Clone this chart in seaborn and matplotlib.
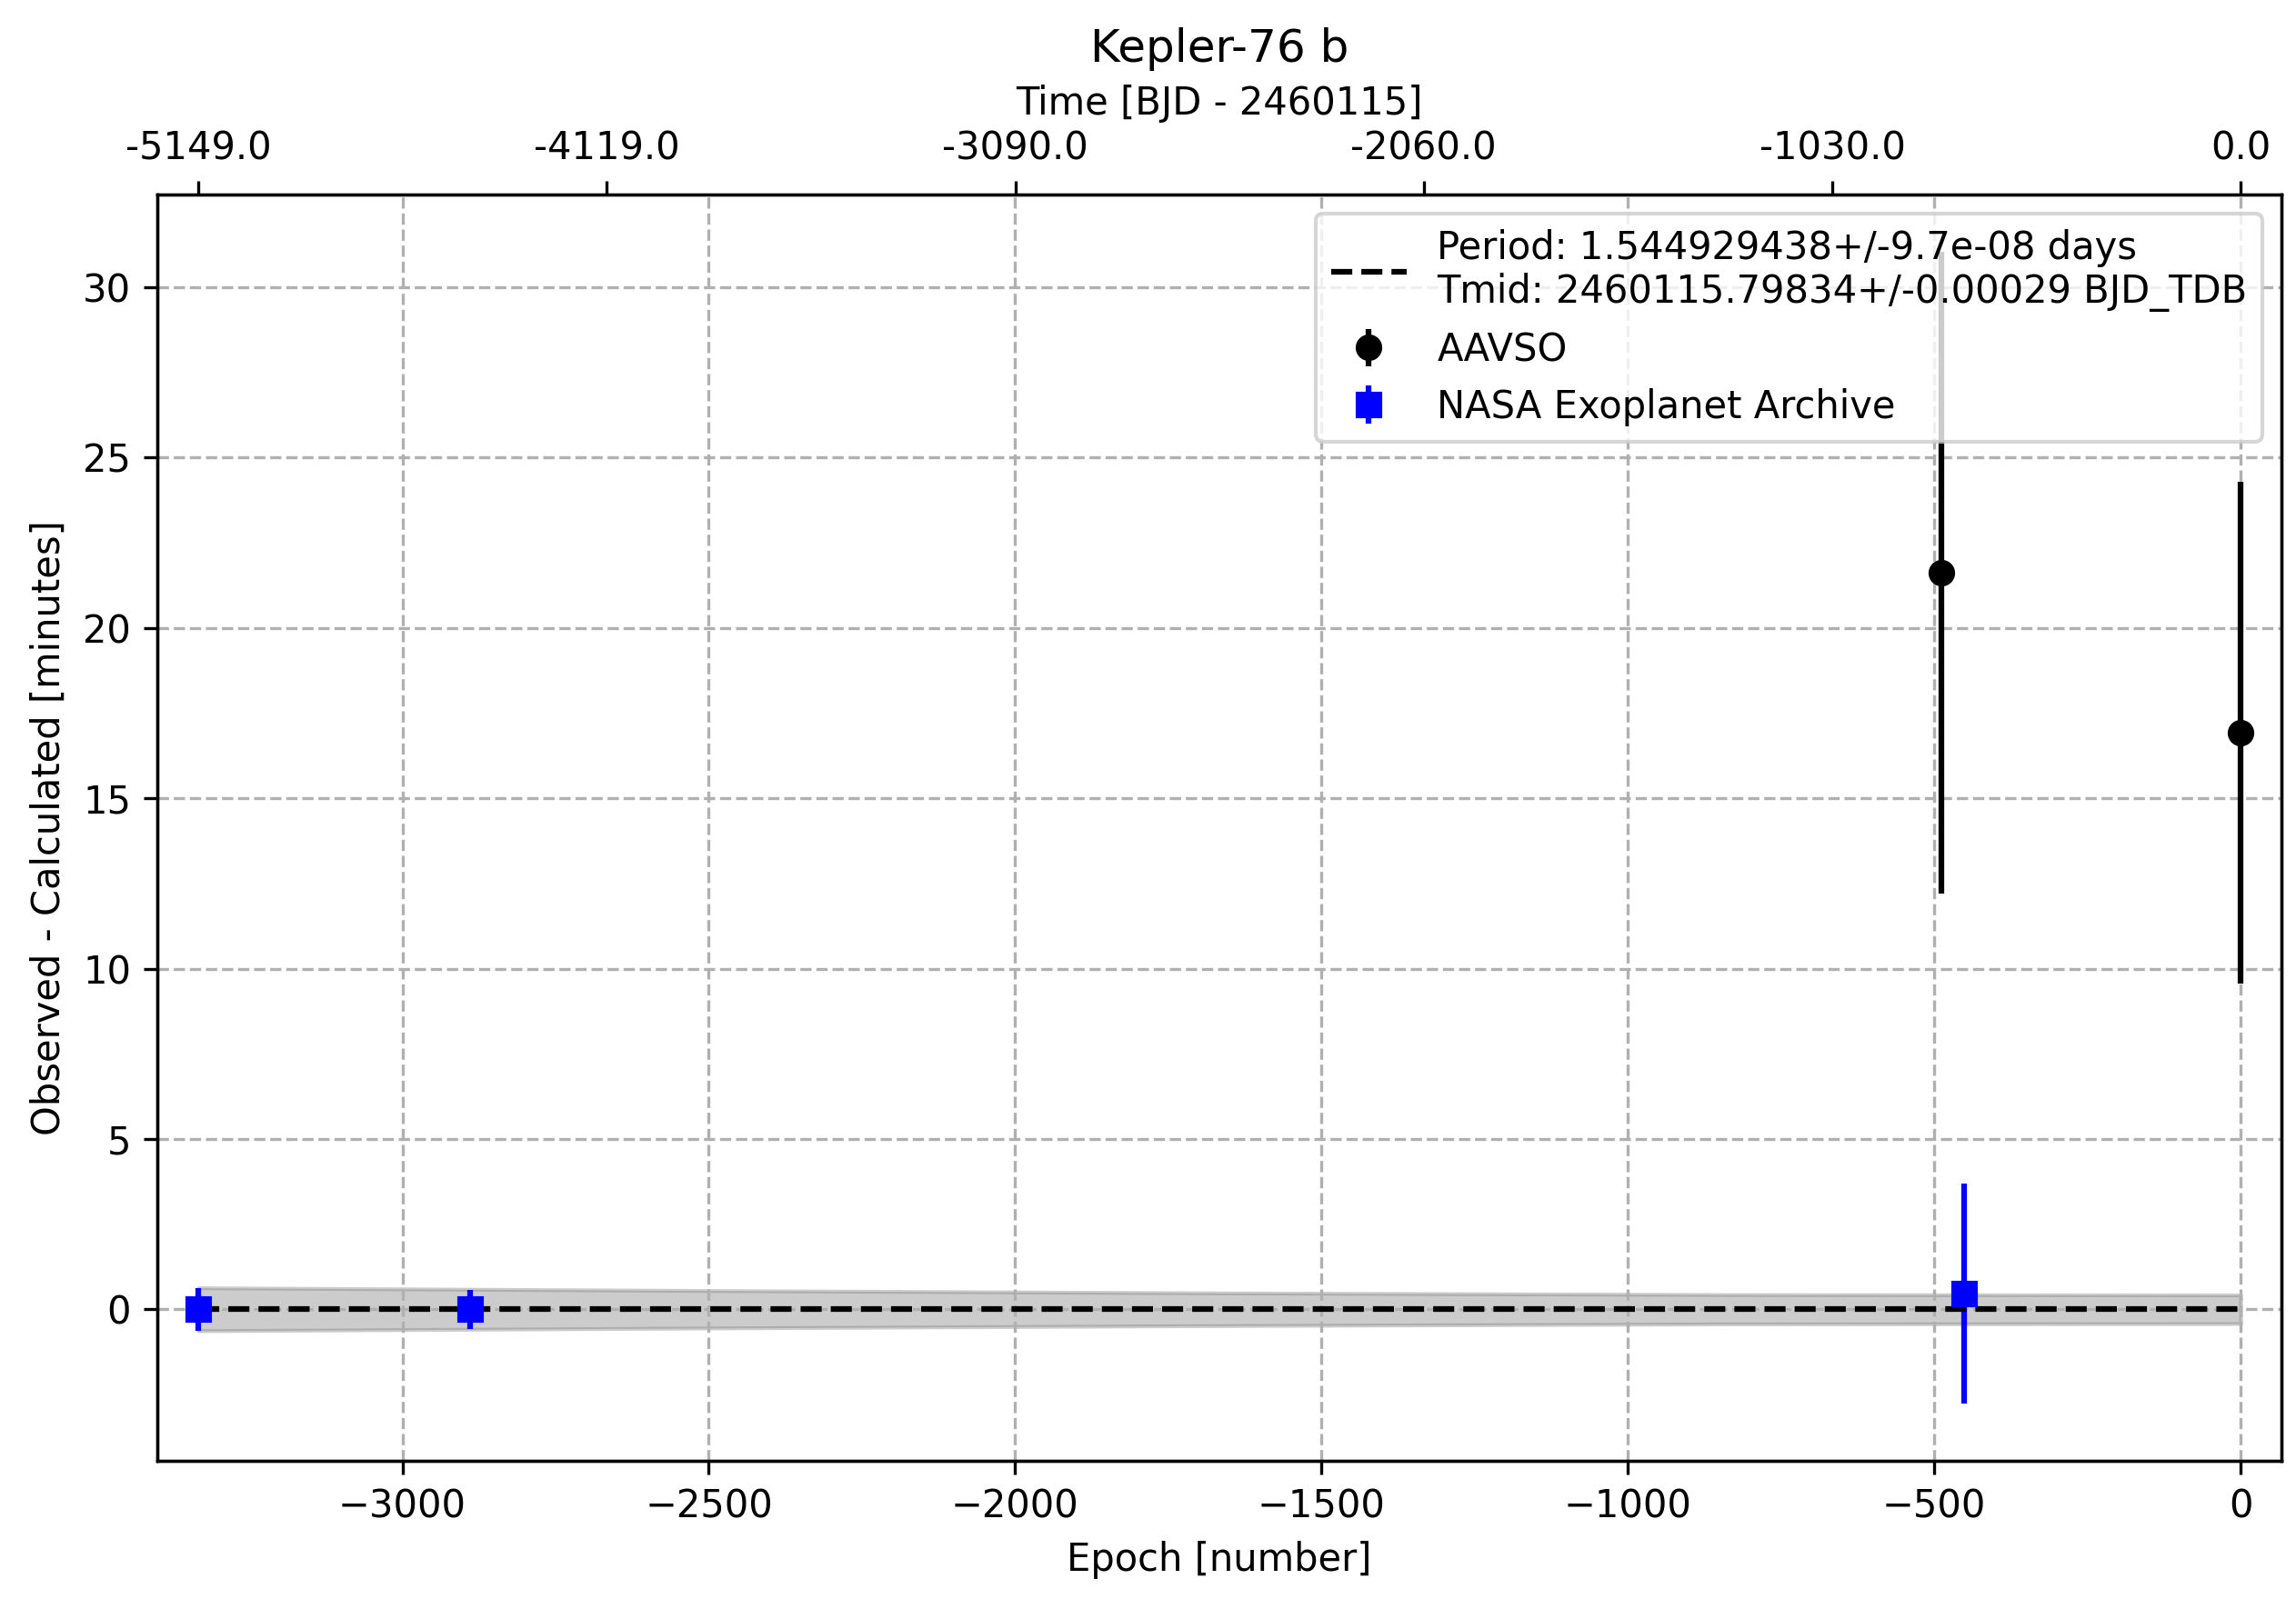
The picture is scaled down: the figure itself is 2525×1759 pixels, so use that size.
import numpy as np
import matplotlib
matplotlib.use("Agg")
import matplotlib.pyplot as plt
import seaborn as sns

# O-C data (minutes)
aavso_epoch = [-488, 0]
aavso_oc = [21.62, 16.92]
aavso_err = [9.41, 7.36]

nasa_epoch = [-3333, -2890, -451]
nasa_oc = [0.0, 0.0, 0.46]
nasa_err = [0.62, 0.58, 3.22]

# ephemeris uncertainty band (half width, minutes)
band_epoch = [-3333, -2500, -1667, -833, 0]
band_halfwidth = [0.63, 0.55, 0.48, 0.43, 0.42]

fit_epoch = [-3333, 0]
fit_oc = [0.0, 0.0]

top_labels = ["-5149.0", "-4119.0", "-3090.0", "-2060.0", "-1030.0", "0.0"]

fit_label = ("Period: 1.544929438+/-9.7e-08 days\n"
             "Tmid: 2460115.79834+/-0.00029 BJD_TDB")


def draw_oc_plot():
    fig, ax = plt.subplots(figsize=(2525 / 300, 1759 / 300), dpi=300)
    fig.subplots_adjust(left=0.0686, right=0.9937, top=0.8783, bottom=0.0864)

    hw = np.array(band_halfwidth)
    ax.fill_between(band_epoch, -hw, hw, color="gray", alpha=0.4)

    ax.errorbar(aavso_epoch, aavso_oc, yerr=aavso_err, fmt="o", color="black",
                label="AAVSO")
    ax.errorbar(nasa_epoch, nasa_oc, yerr=nasa_err, fmt="s", color="blue",
                label="NASA Exoplanet Archive")

    sns.lineplot(x=fit_epoch, y=fit_oc, ax=ax, color="black", linestyle="--",
                 label=fit_label)

    ax.margins(x=0.02)
    ax.set_xlabel("Epoch [number]")
    ax.set_ylabel("Observed - Calculated [minutes]")
    ax.grid(True, ls="--")
    ax.legend(loc="upper right")

    ax2 = ax.twiny()
    ax2.set_xlim(ax.get_xlim())
    ax2.set_xticks(np.linspace(min(fit_epoch), max(fit_epoch), len(top_labels)))
    ax2.set_xticklabels(top_labels)
    ax2.set_xlabel("Time [BJD - 2460115]")

    ax.set_title("Kepler-76 b")
    return fig


if __name__ == "__main__":
    fig = draw_oc_plot()
    fig.savefig("out.png", dpi=300)
